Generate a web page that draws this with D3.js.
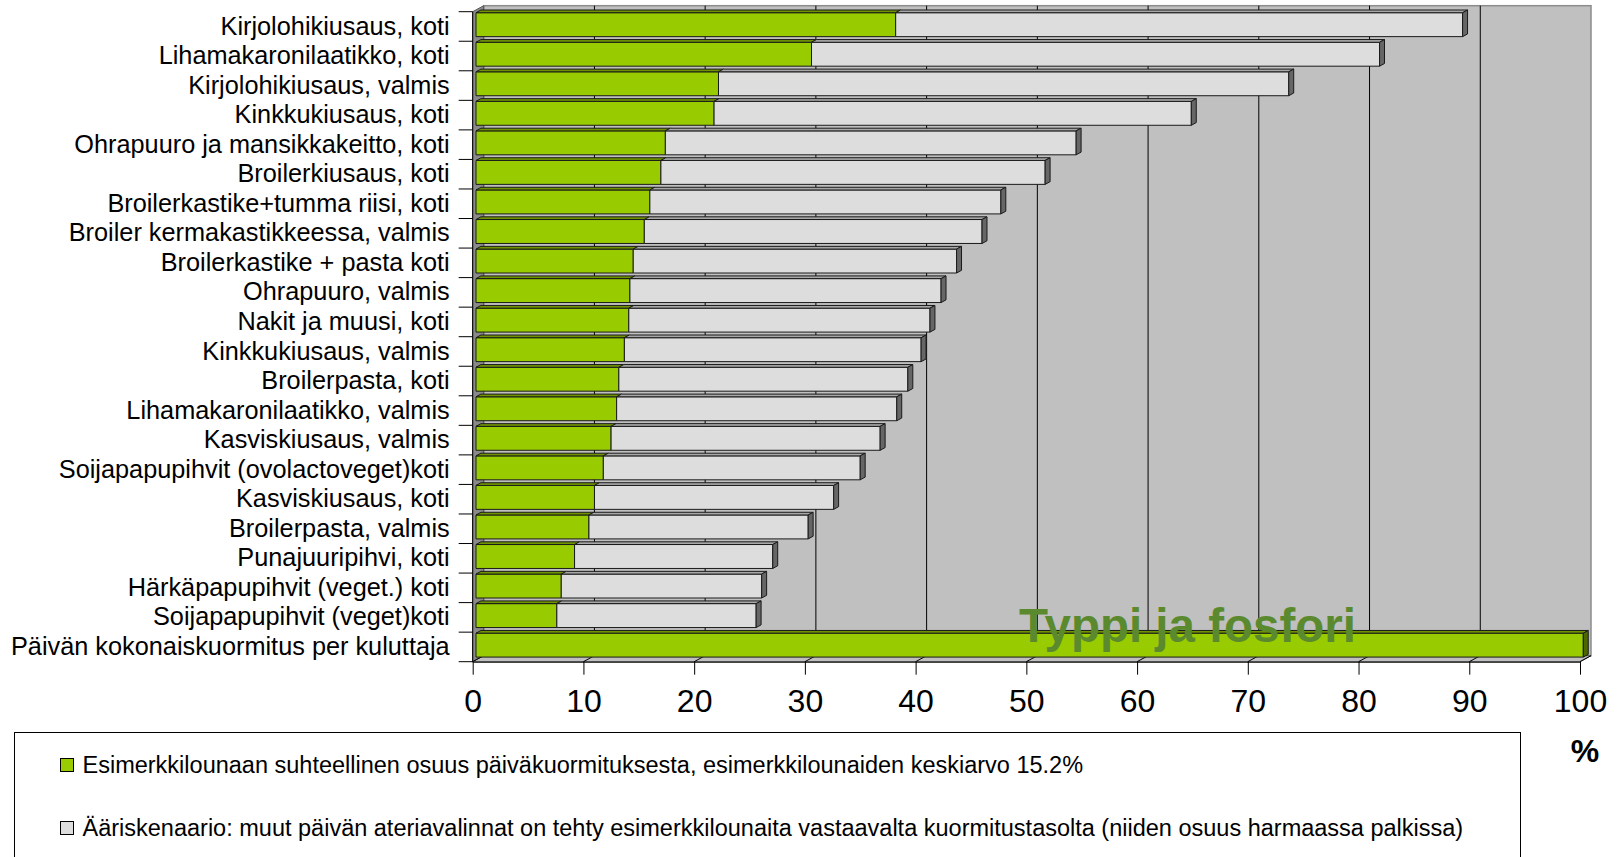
<!DOCTYPE html>
<html>
<head>
<meta charset="utf-8">
<script src="https://cdn.jsdelivr.net/npm/d3@7"></script>
<style>
	body { margin: 0; background: #fff; }
	svg { display: block; font-family: 'Liberation Sans', Arial, sans-serif; }
</style>
</head>
<body>
<script>
var categories = [
	'Kirjolohikiusaus, koti',
	'Lihamakaronilaatikko, koti',
	'Kirjolohikiusaus, valmis',
	'Kinkkukiusaus, koti',
	'Ohrapuuro ja mansikkakeitto, koti',
	'Broilerkiusaus, koti',
	'Broilerkastike+tumma riisi, koti',
	'Broiler kermakastikkeessa, valmis',
	'Broilerkastike + pasta koti',
	'Ohrapuuro, valmis',
	'Nakit ja muusi, koti',
	'Kinkkukiusaus, valmis',
	'Broilerpasta, koti',
	'Lihamakaronilaatikko, valmis',
	'Kasviskiusaus, valmis',
	'Soijapapupihvit (ovolactoveget)koti',
	'Kasviskiusaus, koti',
	'Broilerpasta, valmis',
	'Punajuuripihvi, koti',
	'Härkäpapupihvit (veget.) koti',
	'Soijapapupihvit (veget)koti',
	'Päivän kokonaiskuormitus per kuluttaja'
];

// green: share of the example lunch, grey: rest of the day in the extreme scenario
var lunchShare = [37.9, 30.3, 21.9, 21.5, 17.1, 16.7, 15.7, 15.2, 14.2, 13.9, 13.8,
	13.4, 12.9, 12.7, 12.2, 11.5, 10.7, 10.2, 8.9, 7.7, 7.3, 100];
var restShare = [51.2, 51.3, 51.5, 43.1, 37.1, 34.7, 31.7, 30.5, 29.2, 28.1, 27.2,
	26.8, 26.1, 25.3, 24.3, 23.2, 21.6, 19.8, 17.9, 18.1, 18.0, 0];

var xTicks = [0, 10, 20, 30, 40, 50, 60, 70, 80, 90, 100];
var seriesLabels = [
	'Esimerkkilounaan suhteellinen osuus päiväkuormituksesta, esimerkkilounaiden keskiarvo 15.2%',
	'Ääriskenaario: muut päivän ateriavalinnat on tehty esimerkkilounaita vastaavalta kuormitustasolta (niiden osuus harmaassa palkissa)'
];
var chartTitle = 'Typpi ja fosfori';
var unitLabel = '%';

(function() {
	var W = 1617, H = 857;
	var plot = {left: 472.7, right: 1580, top: 11.7, bottom: 661.7};
	var depth = {dx: 11, dy: -6};
	var barFront = 0.3, barBack = 0.75;

	var colors = {
		green: {front: '#99cc00', top: '#6f9400', side: '#4d6600'},
		grey:  {front: '#dddddd', top: '#a8a8a8', side: '#666666'}
	};

	var x = d3.scaleLinear().domain([0, 100]).range([plot.left, plot.right]);
	var y = d3.scaleBand().domain(categories).range([plot.top, plot.bottom])
		.paddingInner(0.19).paddingOuter(0.095);

	var rows = categories.map(function(c, i) {
		return {cat: c, segs: [
			{v0: 0, v1: lunchShare[i], col: colors.green},
			{v0: lunchShare[i], v1: lunchShare[i] + restShare[i], col: colors.grey}
		].filter(function(s) { return s.v1 > s.v0; })};
	});

	var svg = d3.select('body').append('svg')
		.attr('width', W)
		.attr('height', H);

	svg.append('rect').attr('width', W).attr('height', H).attr('fill', '#fff');

	// back wall
	svg.append('rect')
		.attr('x', plot.left + depth.dx)
		.attr('y', plot.top + depth.dy)
		.attr('width', plot.right - plot.left)
		.attr('height', plot.bottom - plot.top)
		.attr('fill', '#c0c0c0')
		.attr('stroke', '#8c8c8c')
		.attr('stroke-width', 1.5);

	svg.append('g').selectAll('line')
		.data(xTicks.slice(1, -1))
		.enter().append('line')
		.attr('x1', function(d) { return x(d) + depth.dx; })
		.attr('x2', function(d) { return x(d) + depth.dx; })
		.attr('y1', plot.top + depth.dy)
		.attr('y2', plot.bottom + depth.dy)
		.attr('stroke', '#000')
		.attr('stroke-width', 1);

	// left side wall
	svg.append('polygon')
		.attr('points', [
			[plot.left, plot.top], [plot.left + depth.dx, plot.top + depth.dy],
			[plot.left + depth.dx, plot.bottom + depth.dy], [plot.left, plot.bottom]
		].join(' '))
		.attr('fill', '#8a8a8a')
		.attr('stroke', '#555')
		.attr('stroke-width', 1);

	// floor
	svg.append('polygon')
		.attr('points', [
			[plot.left, plot.bottom], [plot.right, plot.bottom],
			[plot.right + depth.dx, plot.bottom + depth.dy], [plot.left + depth.dx, plot.bottom + depth.dy]
		].join(' '))
		.attr('fill', '#c0c0c0')
		.attr('stroke', '#555')
		.attr('stroke-width', 1);

	svg.append('g').selectAll('line')
		.data(xTicks)
		.enter().append('line')
		.attr('x1', function(d) { return x(d); })
		.attr('x2', function(d) { return x(d) + depth.dx; })
		.attr('y1', plot.bottom)
		.attr('y2', plot.bottom + depth.dy)
		.attr('stroke', '#000');

	// bars
	var fx = depth.dx * barFront, fy = depth.dy * barFront;
	var bx = depth.dx * barBack, by = depth.dy * barBack;
	var h = y.bandwidth();

	var barRows = svg.append('g')
		.attr('stroke', '#1a1a1a')
		.attr('stroke-width', 1)
		.attr('stroke-linejoin', 'round')
		.selectAll('g')
		.data(rows)
		.enter().append('g');

	barRows.each(function(r) {
		var g = d3.select(this);
		var t = y(r.cat);
		r.segs.forEach(function(s, k) {
			var a = x(s.v0), b = x(s.v1);
			g.append('rect')
				.attr('x', a + fx).attr('y', t + fy)
				.attr('width', b - a).attr('height', h)
				.attr('fill', s.col.front);
			g.append('polygon')
				.attr('points', [[a + fx, t + fy], [b + fx, t + fy], [b + bx, t + by], [a + bx, t + by]].join(' '))
				.attr('fill', s.col.top);
			if (k === r.segs.length - 1) {
				g.append('polygon')
					.attr('points', [[b + fx, t + fy], [b + bx, t + by], [b + bx, t + by + h], [b + fx, t + fy + h]].join(' '))
					.attr('fill', s.col.side);
			}
		});
	});

	// y axis: front edge, boundary ticks, labels
	svg.append('line')
		.attr('x1', plot.left).attr('x2', plot.left)
		.attr('y1', plot.top).attr('y2', plot.bottom)
		.attr('stroke', '#000');

	var bounds = categories.map(function(c) { return y(c) - (y.step() - h) / 2; }).concat([plot.bottom]);
	svg.append('g').selectAll('line')
		.data(bounds)
		.enter().append('line')
		.attr('x1', plot.left - 14).attr('x2', plot.left)
		.attr('y1', function(d) { return d; })
		.attr('y2', function(d) { return d; })
		.attr('stroke', '#000');

	var yAxis = svg.append('g')
		.attr('transform', 'translate(' + plot.left + ',0)')
		.call(d3.axisLeft(y).tickSize(0).tickPadding(23));
	yAxis.select('.domain').remove();
	yAxis.selectAll('text')
		.attr('font-family', "'Liberation Sans', Arial, sans-serif")
		.attr('font-size', 25.3)
		.attr('fill', '#000');

	// x axis
	var xAxis = svg.append('g')
		.attr('transform', 'translate(0,' + plot.bottom + ')')
		.call(d3.axisBottom(x).tickValues(xTicks).tickSize(13).tickSizeOuter(0).tickPadding(15));
	xAxis.select('.domain').attr('stroke', '#000');
	xAxis.selectAll('line').attr('stroke', '#000');
	xAxis.selectAll('text')
		.attr('font-family', "'Liberation Sans', Arial, sans-serif")
		.attr('font-size', 32)
		.attr('fill', '#000');

	// title inside plot
	svg.append('text')
		.attr('x', 1019)
		.attr('y', 641.5)
		.attr('font-size', 47.5)
		.attr('font-weight', 'bold')
		.attr('fill', '#5b8a2e')
		.text(chartTitle);

	svg.append('text')
		.attr('x', 1585)
		.attr('y', 762)
		.attr('text-anchor', 'middle')
		.attr('font-size', 32)
		.attr('font-weight', 'bold')
		.text(unitLabel);

	// legend
	var legend = svg.append('g');
	legend.append('rect')
		.attr('x', 14.5).attr('y', 732.5)
		.attr('width', 1506).attr('height', 140)
		.attr('fill', '#fff')
		.attr('stroke', '#000');

	var legendItems = legend.selectAll('g.item')
		.data(seriesLabels)
		.enter().append('g')
		.attr('class', 'item')
		.attr('transform', function(d, i) { return 'translate(60,' + (765 + i * 63) + ')'; });

	legendItems.append('rect')
		.attr('x', 0.5).attr('y', -6.5)
		.attr('width', 13).attr('height', 13)
		.attr('fill', function(d, i) { return i === 0 ? colors.green.front : colors.grey.front; })
		.attr('stroke', '#000');

	legendItems.append('text')
		.attr('x', 22.5)
		.attr('dy', '0.35em')
		.attr('font-size', 23.5)
		.text(function(d) { return d; });
}());
</script>
</body>
</html>
